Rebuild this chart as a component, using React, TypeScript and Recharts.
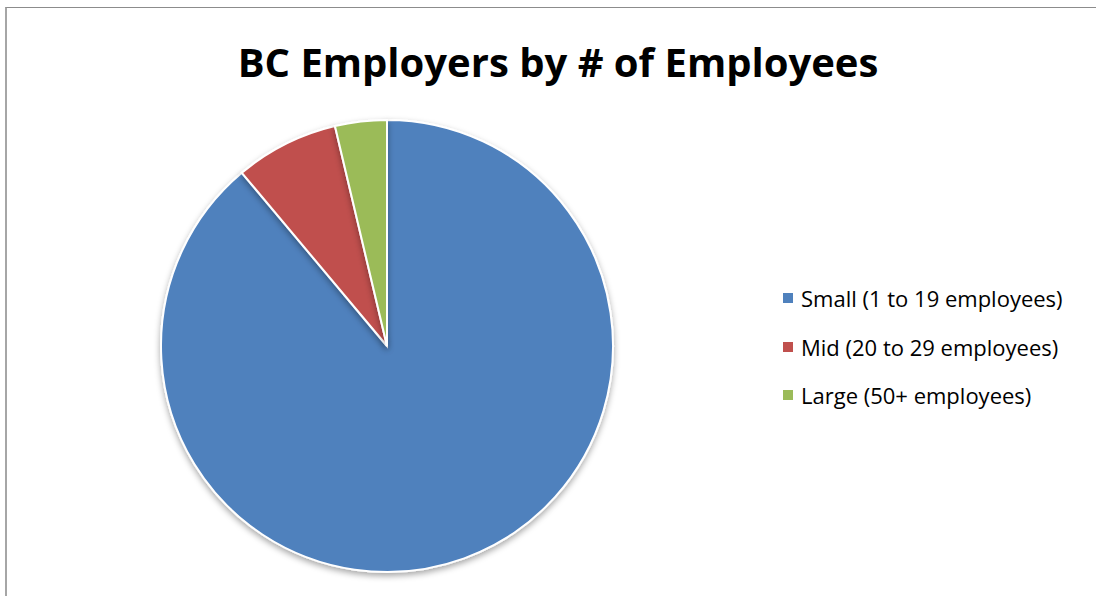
import React from "react"
import { PieChart, Pie, Cell, Legend } from "recharts"

const categories = ["Small (1 to 19 employees)", "Mid (20 to 29 employees)", "Large (50+ employees)"]
const shares = [88.9, 7.4, 3.7]
const colors = ["#4F81BD", "#C0504D", "#9BBB59"]

const data = categories.map((name, i) => ({ name, value: shares[i] }))

// legend in the office style: small square + label
const renderLegend = () => (
  <div style={{ fontFamily: "'Open Sans', sans-serif", fontSize: 22, color: "#000" }}>
    {categories.map((name, i) => (
      <div key={name} style={{ display: "flex", alignItems: "center", height: 48.5, whiteSpace: "nowrap" }}>
        <span style={{ width: 10, height: 10, background: colors[i], marginRight: 8, display: "inline-block", flex: "none" }} />
        <span>{name}</span>
      </div>
    ))}
  </div>
)

export default function App() {
  return (
    <div style={{ position: "absolute", left: 0, top: 0, width: 1096, height: 596, overflow: "hidden", background: "#fff" }}>
      <div
        style={{
          position: "absolute",
          left: 5,
          top: 7,
          width: 1200,
          height: 700,
          borderLeft: "2px solid #a6a6a6",
          borderTop: "1px solid #8c8c8c",
        }}
      />
      <div
        style={{
          position: "absolute",
          left: 0,
          top: 32,
          width: 1116,
          textAlign: "center",
          fontFamily: "'Open Sans', sans-serif",
          fontWeight: 700,
          fontSize: 40,
          color: "#000",
          lineHeight: "60px",
        }}
      >
        BC Employers by # of Employees
      </div>
      <PieChart
        width={1096}
        height={596}
        margin={{ top: 0, right: 0, bottom: 0, left: 0 }}
        style={{ position: "absolute", left: 0, top: 0 }}
      >
        <defs>
          <filter id="pieShadow" x="-20%" y="-20%" width="140%" height="140%">
            <feDropShadow dx="0" dy="3" stdDeviation="3" floodColor="#000" floodOpacity="0.35" />
          </filter>
        </defs>
        <Pie
          data={data}
          dataKey="value"
          nameKey="name"
          cx={387}
          cy={346}
          outerRadius={226}
          startAngle={90}
          endAngle={-270}
          stroke="#fff"
          strokeWidth={2}
          filter="url(#pieShadow)"
          isAnimationActive={false}
        >
          {data.map((d, i) => (
            <Cell key={d.name} fill={colors[i]} />
          ))}
        </Pie>
        <Legend
          layout="vertical"
          align="right"
          verticalAlign="top"
          content={renderLegend}
          wrapperStyle={{ left: 783, top: 274, width: 312 }}
        />
      </PieChart>
    </div>
  )
}
